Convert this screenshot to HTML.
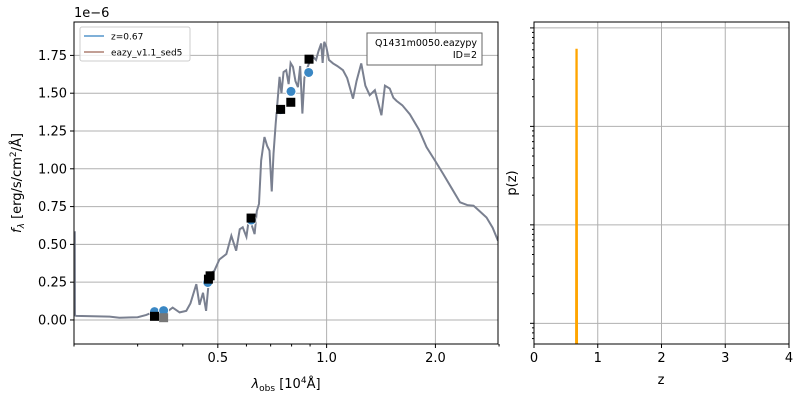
<!DOCTYPE html>
<html><head><meta charset="utf-8"><style>
body{margin:0;background:#fff;}
svg{display:block;font-family:"DejaVu Sans","Liberation Sans",sans-serif;}
</style></head><body>
<svg id="fig" width="800" height="400" viewBox="0 0 800 400" xmlns="http://www.w3.org/2000/svg"></svg>
<script>
// ---- SED panel data ----
const specLam = [0.2007,0.201,0.2012,0.203,0.251,0.267,0.300,0.317,0.345,0.360,0.375,0.392,0.409,0.420,0.436,0.445,0.455,0.464,0.474,0.489,0.505,0.528,0.545,0.562,0.575,0.586,0.600,0.612,0.622,0.632,0.641,0.650,0.659,0.673,0.685,0.695,0.705,0.713,0.723,0.741,0.750,0.760,0.773,0.785,0.795,0.807,0.820,0.833,0.845,0.857,0.868,0.879,0.895,0.917,0.935,0.950,0.966,0.975,0.985,0.998,1.015,1.042,1.07,1.110,1.14,1.183,1.21,1.247,1.28,1.316,1.36,1.418,1.45,1.495,1.53,1.56,1.62,1.70,1.80,1.89,2.00,2.10,2.22,2.34,2.45,2.55,2.65,2.77,2.88,2.98];
const specFlux = [0.58,0.58,0.03,0.027,0.022,0.015,0.018,0.033,0.07,0.05,0.082,0.05,0.06,0.11,0.237,0.10,0.18,0.06,0.303,0.325,0.40,0.436,0.557,0.458,0.60,0.613,0.55,0.701,0.62,0.568,0.72,0.768,1.055,1.21,1.15,1.12,0.85,1.10,1.30,1.608,1.50,1.64,1.652,1.56,1.70,1.674,1.58,1.54,1.68,1.365,1.60,1.652,1.70,1.741,1.72,1.78,1.829,1.70,1.84,1.807,1.72,1.697,1.68,1.652,1.60,1.464,1.58,1.697,1.55,1.487,1.52,1.354,1.55,1.531,1.47,1.45,1.42,1.36,1.26,1.143,1.05,0.967,0.87,0.778,0.76,0.756,0.72,0.678,0.61,0.524];
const modelLam = [0.334,0.354,0.469,0.619,0.746,0.797,0.892];
const modelFlux = [0.055,0.062,0.248,0.661,1.391,1.512,1.637];
const obsLam = [0.334,0.471,0.476,0.618,0.746,0.796,0.894];
const obsFlux = [0.024,0.270,0.292,0.674,1.393,1.44,1.725];
const badLam = [0.354];
const badFlux = [0.015];
const yTicks = [0,0.25,0.5,0.75,1.0,1.25,1.5,1.75];
const yTickLabels = ["0.00","0.25","0.50","0.75","1.00","1.25","1.50","1.75"];
const xTicks = [0.5,1.0,2.0];
const xTickLabels = ["0.5","1.0","2.0"];
const xMinor = [0.2,0.3,0.4,0.6,0.7,0.8,0.9,3.0];
// ---- p(z) panel data ----
const pzZ = [0.62,0.645,0.66,0.665,0.67,0.675,0.68,0.70];
const pzP = [1e-5,1e-5,2e-4,0.6,0.6,2e-4,1e-5,1e-5];
const zTicks = [0,1,2,3,4];
const pDecades = [1e-3,1e-2,1e-1,1];

const NS="http://www.w3.org/2000/svg";
const svg=document.getElementById('fig');
function mk(tag,attrs,parent){const e=document.createElementNS(NS,tag);for(const k in attrs)e.setAttribute(k,attrs[k]);(parent||svg).appendChild(e);return e;}

const L={x0:74,x1:498,y0:22,y1:344,lmin:0.2,lmax:2.98,fmin:-0.159,fmax:1.971};
const xs=l=>L.x0+(Math.log10(l)-Math.log10(L.lmin))/(Math.log10(L.lmax)-Math.log10(L.lmin))*(L.x1-L.x0);
const ys=f=>L.y1-(f-L.fmin)/(L.fmax-L.fmin)*(L.y1-L.y0);

const gL=mk('g',{});


yTicks.forEach((t,i)=>{
  const y=ys(t);
  const gl=mk('line',{x1:L.x0,x2:L.x1,y1:y,y2:y,stroke:'#b0b0b0','stroke-width':1},gL);
  
  
  mk('line',{x1:L.x0-4,x2:L.x0,y1:y,y2:y,stroke:'#000'},gL);
  const tx=mk('text',{x:L.x0-7,y:y+4.5,'text-anchor':'end','font-size':13},gL);
  tx.textContent=yTickLabels[i];
  
  
});
xTicks.forEach((t,i)=>{
  const x=xs(t);
  const gl=mk('line',{x1:x,x2:x,y1:L.y0,y2:L.y1,stroke:'#b0b0b0','stroke-width':1},gL);
  
  
  mk('line',{x1:x,x2:x,y1:L.y1,y2:L.y1+4,stroke:'#000'},gL);
  const tx=mk('text',{x:x,y:L.y1+18,'text-anchor':'middle','font-size':13},gL);
  tx.textContent=xTickLabels[i];
  
  
});
xMinor.forEach(t=>{const x=xs(t);mk('line',{x1:x,x2:x,y1:L.y1,y2:L.y1+2.5,stroke:'#000'},gL);});

const clip=mk('clipPath',{id:'cl'},gL);mk('rect',{x:L.x0,y:L.y0,width:L.x1-L.x0,height:L.y1-L.y0},clip);
const sp=mk('polyline',{points:specLam.map((l,i)=>xs(l)+','+ys(specFlux[i])).join(' '),fill:'none',stroke:'#7a8090','stroke-width':2,'clip-path':'url(#cl)'},gL);


modelLam.forEach((l,i)=>{
  const c=mk('circle',{cx:xs(l),cy:ys(modelFlux[i]),r:5,fill:'#3a87c4',stroke:'#fff','stroke-width':1},gL);
  
  
});
badLam.forEach((l,i)=>{
  const r=mk('rect',{x:xs(l)-4.5,y:ys(badFlux[i])-4.5,width:9,height:9,fill:'#777'},gL);
  
  
});
obsLam.forEach((l,i)=>{
  const r=mk('rect',{x:xs(l)-4.5,y:ys(obsFlux[i])-4.5,width:9,height:9,fill:'#000'},gL);
  
  
});
mk('rect',{x:L.x0,y:L.y0,width:L.x1-L.x0,height:L.y1-L.y0,fill:'none',stroke:'#000','stroke-width':1},gL);

const lg=mk('g',{},gL);


mk('rect',{x:80,y:27,width:110,height:34,rx:2,fill:'#fff','fill-opacity':0.8,stroke:'#ccc'},lg);
mk('line',{x1:84,x2:104,y1:36,y2:36,stroke:'#7fb0d8','stroke-width':2},lg);
mk('line',{x1:84,x2:104,y1:52,y2:52,stroke:'#c29f95','stroke-width':2},lg);
const t1=mk('text',{x:111,y:39.5,'font-size':9},lg);t1.textContent='z=0.67';


const t2=mk('text',{x:111,y:55.5,'font-size':9},lg);t2.textContent='eazy_v1.1_sed5';



const ib=mk('g',{},gL);


mk('rect',{x:367,y:33,width:115,height:32,fill:'#fff',stroke:'#666'},ib);
const i1=mk('text',{x:477,y:46,'text-anchor':'end','font-size':9.5},ib);i1.textContent='Q1431m0050.eazypy';
const i2=mk('text',{x:477,y:58,'text-anchor':'end','font-size':9.5},ib);i2.textContent='ID=2';

const ex=mk('text',{x:74,y:17,'font-size':13},gL);ex.textContent='1e\u22126';


const yl=mk('text',{x:0,y:0,'font-size':13,'text-anchor':'middle',transform:'translate(21,183) rotate(-90)'},gL);
yl.innerHTML='<tspan font-style="italic">f</tspan><tspan font-size="9" dy="3" font-style="italic">λ</tspan><tspan dy="-3"> [erg/s/cm</tspan><tspan font-size="9" dy="-5">2</tspan><tspan dy="5">/Å]</tspan>';


const xl=mk('text',{x:286,y:388,'font-size':13,'text-anchor':'middle'},gL);
xl.innerHTML='<tspan font-style="italic">λ</tspan><tspan font-size="9" dy="3">obs</tspan><tspan dy="-3"> [10</tspan><tspan font-size="9" dy="-5">4</tspan><tspan dy="5">Å]</tspan>';



const R={x0:534,x1:789,y0:22,y1:344,zmin:0,zmax:4,lpmin:-3.21,lpmax:0.06};
const zx=z=>R.x0+(z-R.zmin)/(R.zmax-R.zmin)*(R.x1-R.x0);
const py=p=>R.y1-(Math.log10(p)-R.lpmin)/(R.lpmax-R.lpmin)*(R.y1-R.y0);
const gR=mk('g',{});


const clip2=mk('clipPath',{id:'cr'},gR);mk('rect',{x:R.x0,y:R.y0,width:R.x1-R.x0,height:R.y1-R.y0},clip2);
pDecades.forEach(d=>{
  const y=py(d);
  const gl=mk('line',{x1:R.x0,x2:R.x1,y1:y,y2:y,stroke:'#b0b0b0'},gR);
  
  
  mk('line',{x1:R.x0-4,x2:R.x0,y1:y,y2:y,stroke:'#000'},gR);
  for(let k=2;k<10;k++){const yy=py(d*k/10);if(yy<=R.y1&&yy>=R.y0)mk('line',{x1:R.x0-2,x2:R.x0,y1:yy,y2:yy,stroke:'#000'},gR);}
});
zTicks.forEach(z=>{
  const x=zx(z);
  const gl=mk('line',{x1:x,x2:x,y1:R.y0,y2:R.y1,stroke:'#b0b0b0'},gR);
  
  
  mk('line',{x1:x,x2:x,y1:R.y1,y2:R.y1+4,stroke:'#000'},gR);
  const tx=mk('text',{x:x,y:R.y1+18,'text-anchor':'middle','font-size':13},gR);tx.textContent=String(z);
  
  
});
const pzPts=pzZ.map((z,i)=>zx(z)+','+Math.min(py(pzP[i]),R.y1+5)).join(' ');
const pzf=mk('polygon',{points:zx(pzZ[0])+','+(R.y1+5)+' '+pzPts+' '+zx(pzZ[pzZ.length-1])+','+(R.y1+5),fill:'orange','fill-opacity':0.5,'clip-path':'url(#cr)'},gR);


const pzl=mk('polyline',{points:pzPts,fill:'none',stroke:'orange','stroke-width':2,'clip-path':'url(#cr)'},gR);


mk('rect',{x:R.x0,y:R.y0,width:R.x1-R.x0,height:R.y1-R.y0,fill:'none',stroke:'#000'},gR);
const zl=mk('text',{x:661,y:384,'font-size':13,'text-anchor':'middle'},gR);zl.textContent='z';


const pl=mk('text',{x:0,y:0,'font-size':13,'text-anchor':'middle',transform:'translate(516,183) rotate(-90)'},gR);pl.textContent='p(z)';


</script>
</body></html>
